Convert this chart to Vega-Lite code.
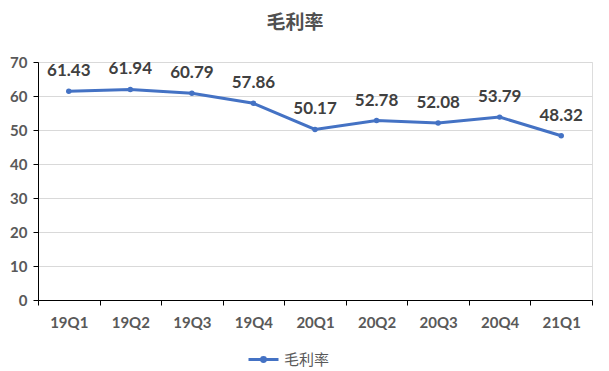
{
  "$schema": "https://vega.github.io/schema/vega-lite/v6.json",
  "autosize": "none",
  "width": 554,
  "height": 238,
  "padding": {"left": 38, "top": 62, "right": 17, "bottom": 71},
  "background": "white",
  "title": {
    "text": "毛利率",
    "font": "Noto Sans CJK SC",
    "fontSize": 19,
    "fontWeight": "bold",
    "color": "#505050",
    "anchor": "middle",
    "dx": -20,
    "offset": 22
  },
  "data": {
    "values": [
      {"q": "19Q1", "v": 61.43, "s": "毛利率"},
      {"q": "19Q2", "v": 61.94, "s": "毛利率"},
      {"q": "19Q3", "v": 60.79, "s": "毛利率"},
      {"q": "19Q4", "v": 57.86, "s": "毛利率"},
      {"q": "20Q1", "v": 50.17, "s": "毛利率"},
      {"q": "20Q2", "v": 52.78, "s": "毛利率"},
      {"q": "20Q3", "v": 52.08, "s": "毛利率"},
      {"q": "20Q4", "v": 53.79, "s": "毛利率"},
      {"q": "21Q1", "v": 48.32, "s": "毛利率"}
    ]
  },
  "encoding": {
    "x": {
      "field": "q",
      "type": "nominal",
      "sort": null,
      "scale": {"type": "band", "paddingInner": 0, "paddingOuter": 0},
      "axis": {
        "title": null,
        "labelAngle": 0,
        "tickBand": "extent",
        "domainColor": "#000000",
        "tickColor": "#000000",
        "tickSize": 5,
        "labelFont": "Lato",
        "labelFontSize": 15,
        "labelFontWeight": "bold",
        "labelColor": "#595959",
        "labelPadding": 10,
        "grid": false
      }
    },
    "y": {
      "field": "v",
      "type": "quantitative",
      "scale": {"domain": [0, 70], "nice": false},
      "axis": {
        "title": null,
        "values": [0, 10, 20, 30, 40, 50, 60, 70],
        "domainColor": "#000000",
        "tickColor": "#000000",
        "tickSize": 5,
        "gridColor": "#d9d9d9",
        "labelFont": "Lato",
        "labelFontSize": 15,
        "labelFontWeight": "bold",
        "labelColor": "#595959",
        "labelPadding": 6
      }
    }
  },
  "layer": [
    {
      "mark": {"type": "line", "strokeWidth": 3},
      "encoding": {
        "color": {
          "field": "s",
          "type": "nominal",
          "scale": {"range": ["#4472C4"]},
          "legend": {
            "title": null,
            "orient": "none",
            "legendX": 209,
            "legendY": 281,
            "symbolType": "M-1,0L1,0M-0.13,0A0.13,0.13 0 1,0 0.13,0A0.13,0.13 0 1,0 -0.13,0Z",
            "symbolSize": 900,
            "symbolStrokeWidth": 3,
            "symbolStrokeColor": "#4472C4",
            "symbolFillColor": "#4472C4",
            "labelFont": "Noto Sans CJK SC",
            "labelFontSize": 15,
            "labelColor": "#595959"
          }
        }
      }
    },
    {
      "mark": {"type": "point", "filled": true, "size": 30, "color": "#4472C4", "opacity": 1}
    },
    {
      "mark": {
        "type": "text",
        "baseline": "bottom",
        "dy": -11,
        "font": "Lato",
        "fontSize": 17,
        "fontWeight": "bold",
        "color": "#404040"
      },
      "encoding": {"text": {"field": "v", "type": "quantitative", "format": ".2f"}}
    }
  ]
}
